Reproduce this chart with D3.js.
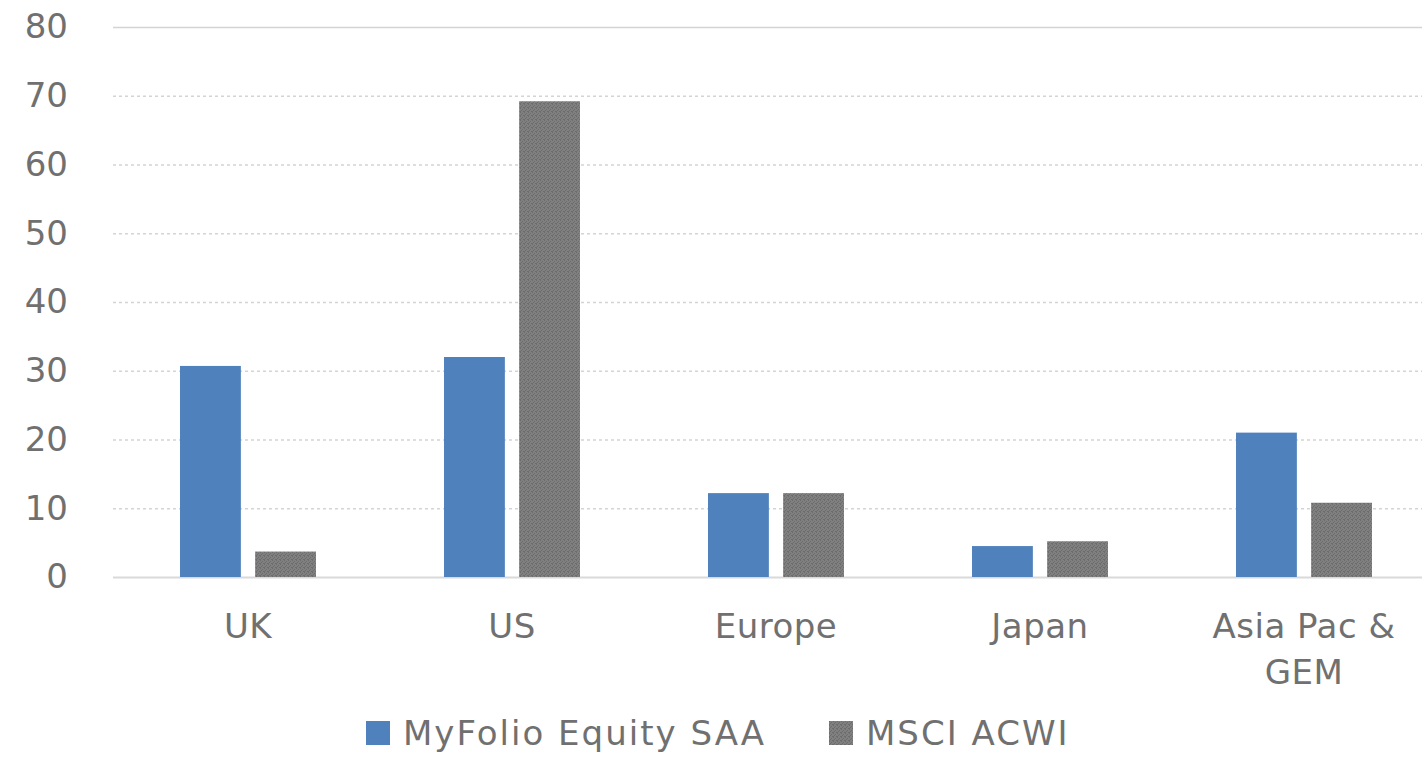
<!DOCTYPE html>
<html>
<head>
<meta charset="utf-8">
<script src="https://cdn.jsdelivr.net/npm/d3@7"></script>
<style>
  body { margin: 0; background: #fff; }
  svg text { font-family: "DejaVu Sans", sans-serif; fill: #707070; }
</style>
</head>
<body>
<div class="chart"></div>
<script>
var categories = ['UK', 'US', 'Europe', 'Japan', 'Asia Pac & GEM'];
var seriesNames = ['MyFolio Equity SAA', 'MSCI ACWI'];
var myFolio = [30.7, 32.0, 12.2, 4.5, 21.0];
var msciAcwi = [3.7, 69.2, 12.2, 5.2, 10.8];
var yTicks = [0, 10, 20, 30, 40, 50, 60, 70, 80];

function init() {
  var width = 1422,
      height = 757,
      left = 113,
      right = 1422,
      top = 27,
      bottom = 577,
      fontSize = 34;

  var svg = d3.select('.chart')
    .append('svg')
      .attr('width', width)
      .attr('height', height);

  var defs = svg.append('defs');
  var pat = defs.append('pattern')
      .attr('id', 'grayTex')
      .attr('patternUnits', 'userSpaceOnUse')
      .attr('width', 4)
      .attr('height', 4);
  pat.append('rect').attr('width', 4).attr('height', 4).attr('fill', '#808080');
  [[0, 0], [2, 1], [1, 2], [3, 3], [0, 3]].forEach(function(p) {
    pat.append('rect').attr('x', p[0]).attr('y', p[1])
      .attr('width', 1).attr('height', 1).attr('fill', '#6c6c6c');
  });

  // bars sit a little right of the gridline start
  var x0 = d3.scaleBand()
    .domain(categories)
    .range([116, 1436])
    .paddingInner(0.485)
    .paddingOuter(0.2425);

  var x1 = d3.scaleBand()
    .domain(seriesNames)
    .range([0, x0.bandwidth()])
    .paddingInner(0.19);

  var y = d3.scaleLinear()
    .domain([0, 80])
    .range([bottom, top]);

  // gridlines
  svg.append('g')
    .selectAll('line')
    .data(yTicks)
    .enter()
    .append('line')
      .attr('x1', left)
      .attr('x2', right)
      .attr('y1', function(d) { return y(d) + 0.5; })
      .attr('y2', function(d) { return y(d) + 0.5; })
      .attr('stroke', function(d) { return d === 0 ? '#d9d9d9' : '#d4d4d4'; })
      .attr('stroke-width', function(d) { return d === 0 ? 2 : 1.5; })
      .attr('stroke-dasharray', function(d) { return (d === 0 || d === 80) ? null : '3,3'; });

  // y axis labels
  var yAxis = d3.axisLeft(y).tickValues(yTicks).tickSize(0).tickPadding(0);
  var ya = svg.append('g')
      .attr('transform', 'translate(68,0)')
      .call(yAxis);
  ya.select('.domain').remove();
  ya.selectAll('text')
      .attr('font-size', fontSize)
      .attr('font-family', null)
      .attr('fill', null);

  var rows = categories.map(function(c, i) {
    return { cat: c, values: [myFolio[i], msciAcwi[i]] };
  });

  var groups = svg.append('g')
    .selectAll('g')
    .data(rows)
    .enter()
    .append('g')
      .attr('transform', function(d) { return 'translate(' + x0(d.cat) + ',0)'; });

  groups.selectAll('rect')
    .data(function(d) {
      return d.values.map(function(v, j) { return { s: seriesNames[j], v: v }; });
    })
    .enter()
    .append('rect')
      .attr('x', function(d) { return x1(d.s); })
      .attr('y', function(d) { return y(d.v); })
      .attr('width', x1.bandwidth())
      .attr('height', function(d) { return y(0) - y(d.v); })
      .attr('fill', function(d) { return d.s === seriesNames[0] ? '#4f81bd' : 'url(#grayTex)'; });

  // category labels
  var xa = svg.append('g')
      .attr('transform', 'translate(0,' + bottom + ')')
      .call(d3.axisBottom(x0).tickSize(0).tickPadding(0));
  xa.select('.domain').remove();
  xa.selectAll('text').remove();
  xa.selectAll('.tick').each(function(d) {
    var lines = d === 'Asia Pac & GEM' ? ['Asia Pac &', 'GEM'] : [d];
    var t = d3.select(this).append('text')
        .attr('text-anchor', 'middle')
        .attr('font-size', fontSize)
        .attr('letter-spacing', 0.5);
    lines.forEach(function(l, k) {
      t.append('tspan').attr('x', 0).attr('y', 61 + k * 46).text(l);
    });
  });

  // legend
  var legend = svg.append('g').attr('transform', 'translate(0,733)');
  var items = [
    { name: seriesNames[0], x: 366, fill: '#4f81bd' },
    { name: seriesNames[1], x: 829, fill: 'url(#grayTex)' }
  ];
  var li = legend.selectAll('g').data(items).enter().append('g')
      .attr('transform', function(d) { return 'translate(' + d.x + ',0)'; });
  li.append('rect')
      .attr('y', -12)
      .attr('width', 24)
      .attr('height', 24)
      .attr('fill', function(d) { return d.fill; });
  li.append('text')
      .attr('x', 37)
      .attr('dy', '0.36em')
      .attr('font-size', fontSize)
      .attr('letter-spacing', 2)
      .text(function(d) { return d.name; });
}

d3.select(window).on('load', init);
</script>
</body>
</html>
